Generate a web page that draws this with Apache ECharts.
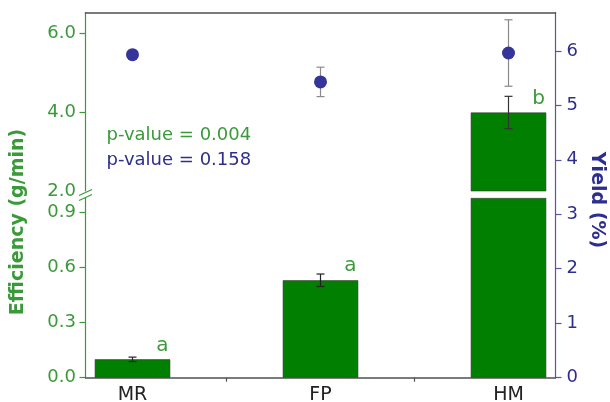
<!DOCTYPE html>
<html>
<head>
<meta charset="utf-8">
<script src="https://cdn.jsdelivr.net/npm/echarts@6/dist/echarts.min.js"></script>
<style>
html,body{margin:0;padding:0;background:#fff;}
#chart{width:610px;height:402px;}
</style>
</head>
<body>
<div id="chart"></div>
<script>
// ---- data ----
const categories = ['MR', 'FP', 'HM'];
const efficiency = [0.10, 0.53, 3.99];
const efficiencyErr = [0.012, 0.034, 0.41];
const yieldVals = [5.93, 5.43, 5.96];
const yieldErr = [0.04, 0.27, 0.61];
const letters = ['a', 'a', 'b'];
const lowerTicks = [0, 0.3, 0.6, 0.9];
const upperTicks = [2, 4, 6];
const yieldTicks = [0, 1, 2, 3, 4, 5, 6];
const pValueTexts = ['p-value = 0.004', 'p-value = 0.158'];
const yTitleLeft = 'Efficiency (g/min)';
const yTitleRight = 'Yield (%)';

// ---- styles ----
const FONT = 'DejaVu Sans';
const GREEN_TXT = '#3a9a3a';
const GREEN_BAR = '#007f00';
const BLUE_TXT = '#2e2e8e';
const BLUE_AX = '#5656a8';
const BLUE_PT = '#34349b';
const GRAY = '#505050';

const X_MIN = 0.75, X_MAX = 3.25;
const LOW_MAX = 0.976;
const UP_MIN = 2, UP_MAX = 6.52;
const Y_MAX = 6.7;

const effData = efficiency.map((v, i) => [i + 1, v, efficiencyErr[i]]);
const yieldData = yieldVals.map((v, i) => [i + 1, v, yieldErr[i]]);

function errRenderer(lo, hi, color, withLetter) {
  return function (params, api) {
    const i = params.dataIndex;
    const x = api.value(0), v = api.value(1), e = api.value(2);
    if (v < lo || v > hi) return null;
    const t = api.coord([x, v + e]);
    const b = api.coord([x, v - e]);
    const m = api.coord([x, v]);
    const cap = 4;
    const st = { stroke: color, lineWidth: 1.2 };
    const children = [
      { type: 'line', shape: { x1: t[0], y1: t[1], x2: b[0], y2: b[1] }, style: st },
      { type: 'line', shape: { x1: t[0] - cap, y1: t[1], x2: t[0] + cap, y2: t[1] }, style: st },
      { type: 'line', shape: { x1: b[0] - cap, y1: b[1], x2: b[0] + cap, y2: b[1] }, style: st }
    ];
    if (withLetter) {
      children.push({
        type: 'text', x: m[0] + 30, y: m[1] - 4,
        style: { text: letters[i], fill: GREEN_TXT, fontSize: 20, fontFamily: FONT,
                 align: 'center', verticalAlign: 'bottom' }
      });
    }
    return { type: 'group', children: children };
  };
}

const gridBase = { left: 85.5, right: 54.5, containLabel: false, outerBoundsMode: 'none' };

const option = {
  animation: false,
  backgroundColor: '#ffffff',
  grid: [
    Object.assign({}, gridBase, { top: 198.3, bottom: 24.3 }),
    Object.assign({}, gridBase, { top: 12.7, bottom: 211 }),
    Object.assign({}, gridBase, { top: 12.7, bottom: 24.3 })
  ],
  xAxis: [
    {
      gridIndex: 0, type: 'value', min: X_MIN, max: X_MAX,
      axisLine: { show: true, onZero: false, lineStyle: { color: GRAY, width: 1.5 } },
      axisTick: { show: true, customValues: [1.5, 2.5], length: 4, lineStyle: { color: GRAY, width: 1.2 } },
      axisLabel: { show: true, customValues: [1, 2, 3], formatter: v => categories[Math.round(v) - 1],
                   color: '#222', fontSize: 19, fontFamily: FONT, margin: 8 },
      splitLine: { show: false }
    },
    {
      gridIndex: 1, type: 'value', min: X_MIN, max: X_MAX, position: 'top',
      axisLine: { show: true, onZero: false, lineStyle: { color: GRAY, width: 1.5 } },
      axisTick: { show: false }, axisLabel: { show: false }, splitLine: { show: false }
    },
    {
      gridIndex: 2, type: 'value', min: X_MIN, max: X_MAX, show: false,
      splitLine: { show: false }
    }
  ],
  yAxis: [
    {
      gridIndex: 0, type: 'value', min: 0, max: LOW_MAX, position: 'left',
      axisLine: { show: true, onZero: false, lineStyle: { color: GREEN_TXT, width: 1.2 } },
      axisTick: { show: true, customValues: lowerTicks, length: 6, lineStyle: { color: GREEN_TXT, width: 1.2 } },
      axisLabel: { customValues: lowerTicks, formatter: v => v.toFixed(1), color: GREEN_TXT,
                   fontSize: 18, fontFamily: FONT, margin: 9.5 },
      splitLine: { show: false }
    },
    {
      gridIndex: 1, type: 'value', min: UP_MIN, max: UP_MAX, position: 'left',
      axisLine: { show: true, onZero: false, lineStyle: { color: GREEN_TXT, width: 1.2 } },
      axisTick: { show: true, customValues: upperTicks.slice(1), length: 6, lineStyle: { color: GREEN_TXT, width: 1.2 } },
      axisLabel: { customValues: upperTicks, formatter: v => v.toFixed(1), color: GREEN_TXT,
                   fontSize: 18, fontFamily: FONT, margin: 9.5 },
      splitLine: { show: false }
    },
    {
      gridIndex: 2, type: 'value', min: 0, max: Y_MAX, position: 'right',
      axisLine: { show: true, onZero: false, lineStyle: { color: BLUE_AX, width: 1.2 } },
      axisTick: { show: true, customValues: yieldTicks, length: 6, lineStyle: { color: BLUE_AX, width: 1.2 } },
      axisLabel: { customValues: yieldTicks, formatter: v => String(v), color: BLUE_TXT,
                   fontSize: 18, fontFamily: FONT, margin: 11 },
      splitLine: { show: false }
    }
  ],
  series: [
    {
      type: 'bar', xAxisIndex: 0, yAxisIndex: 0, data: effData.map(d => [d[0], d[1]]),
      barWidth: 75.5, clip: true,
      itemStyle: { color: GREEN_BAR, borderColor: '#3a3a3a', borderWidth: 0.6 }, z: 2
    },
    {
      type: 'bar', xAxisIndex: 1, yAxisIndex: 1, data: effData.map(d => [d[0], d[1]]),
      barWidth: 75.5, clip: true,
      itemStyle: { color: GREEN_BAR, borderColor: '#3a3a3a', borderWidth: 0.6 }, z: 2
    },
    {
      type: 'custom', xAxisIndex: 0, yAxisIndex: 0, data: effData, z: 4,
      renderItem: errRenderer(0, LOW_MAX, '#222', true)
    },
    {
      type: 'custom', xAxisIndex: 1, yAxisIndex: 1, data: effData, z: 4,
      renderItem: errRenderer(UP_MIN, UP_MAX, '#333', true)
    },
    {
      type: 'custom', xAxisIndex: 2, yAxisIndex: 2, data: yieldData, z: 5,
      renderItem: errRenderer(0, Y_MAX, '#8a8a8a', false)
    },
    {
      type: 'scatter', xAxisIndex: 2, yAxisIndex: 2, data: yieldData.map(d => [d[0], d[1]]),
      symbol: 'circle', symbolSize: 13, itemStyle: { color: BLUE_PT, opacity: 1 }, z: 6
    }
  ],
  graphic: [
    {
      type: 'text', x: 18, y: 222, rotation: Math.PI / 2,
      style: { text: yTitleLeft, fill: GREEN_TXT, fontSize: 19, fontWeight: 'bold', fontFamily: FONT,
               align: 'center', verticalAlign: 'middle' }
    },
    {
      type: 'text', x: 597, y: 200, rotation: -Math.PI / 2,
      style: { text: yTitleRight, fill: BLUE_TXT, fontSize: 19, fontWeight: 'bold', fontFamily: FONT,
               align: 'center', verticalAlign: 'middle' }
    },
    {
      type: 'text', x: 106.5, y: 135.5,
      style: { text: pValueTexts[0], fill: GREEN_TXT, fontSize: 18, fontFamily: FONT,
               align: 'left', verticalAlign: 'middle' }
    },
    {
      type: 'text', x: 106.5, y: 160.5,
      style: { text: pValueTexts[1], fill: BLUE_TXT, fontSize: 18, fontFamily: FONT,
               align: 'left', verticalAlign: 'middle' }
    },
    {
      type: 'line', shape: { x1: 79, y1: 195.5, x2: 92, y2: 189.5 },
      style: { stroke: GREEN_TXT, lineWidth: 1.2 }
    },
    {
      type: 'line', shape: { x1: 79, y1: 200.5, x2: 92, y2: 194.5 },
      style: { stroke: GREEN_TXT, lineWidth: 1.2 }
    }
  ]
};

const chart = echarts.init(document.getElementById('chart'), null, { renderer: 'canvas' });
chart.setOption(option);
</script>
</body>
</html>
